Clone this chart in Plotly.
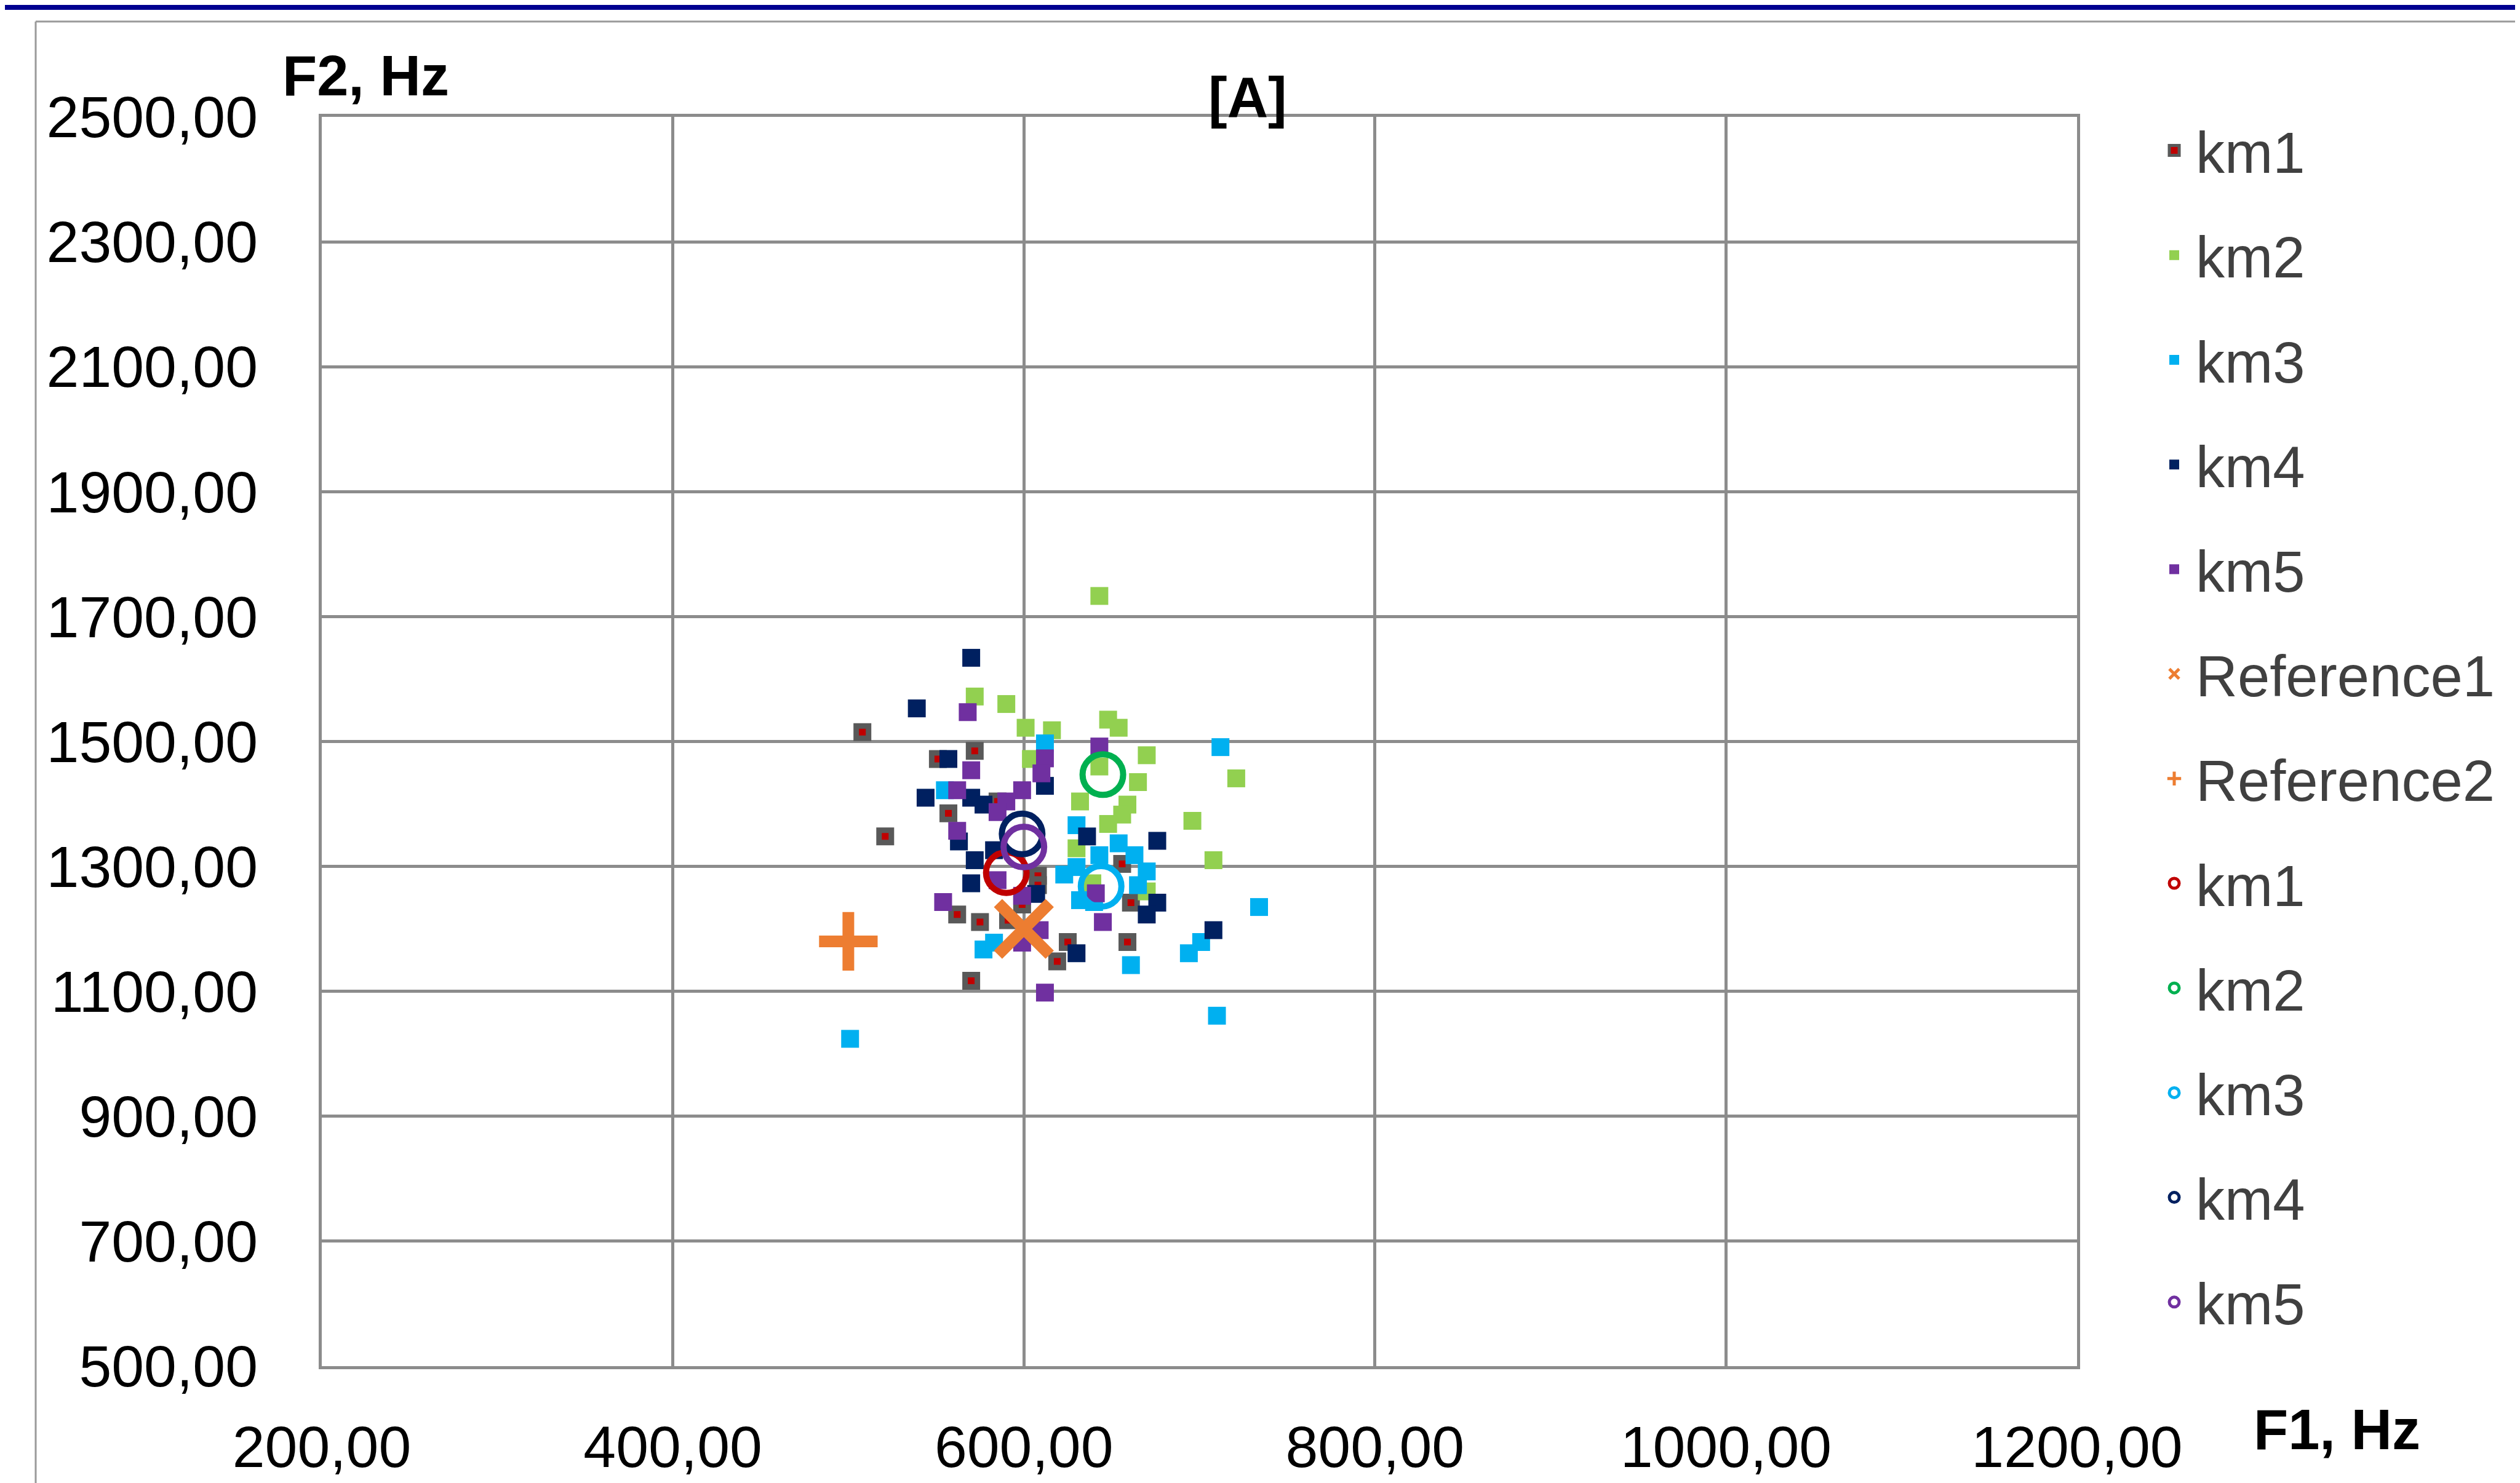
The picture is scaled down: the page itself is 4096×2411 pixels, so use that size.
import plotly.graph_objects as go

W, H = 4096, 2411
L, R, T, B = 515, 728, 182, 198
PW, PH = W - L - R, H - T - B

# ---------------- data ----------------
x_ticks = [200, 400, 600, 800, 1000, 1200]
x_labels = ["200,00", "400,00", "600,00", "800,00", "1000,00", "1200,00"]
y_ticks = [500, 700, 900, 1100, 1300, 1500, 1700, 1900, 2100, 2300, 2500]
y_labels = ["500,00", "700,00", "900,00", "1100,00", "1300,00", "1500,00",
            "1700,00", "1900,00", "2100,00", "2300,00", "2500,00"]

km1_f1 = [508, 572, 551, 557, 521, 562, 575, 608, 608, 599, 591, 570, 619, 656, 661, 625, 659, 585]
km1_f2 = [1515, 1485, 1472, 1385, 1348, 1223, 1211, 1285, 1270, 1239, 1214, 1117, 1148, 1304, 1242, 1179, 1179, 1404]

km2_f1 = [643, 572, 590, 601, 616, 648, 654, 604, 670, 643, 665, 721, 632, 659, 656, 696, 648, 708, 630, 639, 670]
km2_f2 = [1733, 1572, 1560, 1522, 1518, 1535, 1522, 1472, 1478, 1460, 1435, 1441, 1404, 1399, 1383, 1373, 1368, 1310, 1329, 1273, 1260]

km3_f1 = [612, 712, 555, 630, 654, 643, 663, 630, 623, 670, 665, 632, 640, 734, 701, 694, 661, 710, 577, 583, 501]
km3_f2 = [1497, 1491, 1422, 1366, 1337, 1318, 1318, 1299, 1287, 1292, 1270, 1246, 1243, 1235, 1179, 1161, 1142, 1061, 1167, 1178, 1024]

km4_f1 = [570, 539, 557, 612, 544, 570, 577, 563, 572, 583, 570, 607, 636, 676, 676, 670, 708, 630]
km4_f2 = [1634, 1553, 1472, 1429, 1410, 1410, 1399, 1340, 1310, 1326, 1273, 1256, 1348, 1341, 1242, 1223, 1198, 1161]

km5_f1 = [568, 612, 570, 610, 562, 599, 590, 585, 643, 562, 585, 554, 599, 609, 599, 612, 641, 645]
km5_f2 = [1547, 1473, 1454, 1449, 1422, 1422, 1404, 1387, 1492, 1357, 1278, 1243, 1253, 1198, 1178, 1098, 1257, 1211]

ref1_f1 = [600]
ref1_f2 = [1200]
ref2_f1 = [500]
ref2_f2 = [1180]

centroid_names = ["km1", "km2", "km3", "km4", "km5"]
centroid_f1 = [590, 645, 644, 599, 600]
centroid_f2 = [1290, 1447, 1268, 1352, 1331]

# ---------------- styles ----------------
point_colors = ["#c00000", "#92d050", "#00b0f0", "#002060", "#7030a0"]
centroid_colors = ["#c00000", "#00b050", "#00b0f0", "#002060", "#7030a0"]
FONT = "Liberation Sans"
GRID = "#8c8c8c"


def px_to_paper(px, py):
    return (px - L) / PW, (H - B - py) / PH


fig = go.Figure()

series = [("km1", km1_f1, km1_f2), ("km2", km2_f1, km2_f2), ("km3", km3_f1, km3_f2),
          ("km4", km4_f1, km4_f2), ("km5", km5_f1, km5_f2)]
for i, (name, xs, ys) in enumerate(series):
    if i == 0:
        marker = dict(symbol="square", size=20, color=point_colors[i],
                      line=dict(color="#595959", width=9))
    else:
        marker = dict(symbol="square", size=29, color=point_colors[i], line=dict(width=0))
    fig.add_trace(go.Scatter(x=xs, y=ys, mode="markers", name=name, marker=marker,
                             legendgroup="g%d" % i))

fig.add_trace(go.Scatter(x=ref1_f1, y=ref1_f2, mode="markers", name="Reference1",
                         marker=dict(symbol="x-thin", size=84, color="#ed7d31",
                                     line=dict(color="#ed7d31", width=19)),
                         legendgroup="g5"))
fig.add_trace(go.Scatter(x=ref2_f1, y=ref2_f2, mode="markers", name="Reference2",
                         marker=dict(symbol="cross-thin", size=68, color="#ed7d31",
                                     line=dict(color="#ed7d31", width=19)),
                         legendgroup="g6"))

for i, name in enumerate(centroid_names):
    fig.add_trace(go.Scatter(x=[centroid_f1[i]], y=[centroid_f2[i]], mode="markers", name=name,
                             marker=dict(symbol="circle-open", size=66, color=centroid_colors[i],
                                         line=dict(color=centroid_colors[i], width=10)),
                             legendgroup="c%d" % i))

axis_common = dict(showgrid=True, gridcolor=GRID, gridwidth=5, zeroline=False,
                   showline=True, linecolor=GRID, linewidth=5, mirror=True,
                   ticks="", tickfont=dict(family=FONT, size=95, color="#000000"))

fig.update_xaxes(range=[200, 1200], tickvals=x_ticks, ticktext=x_labels,
                 ticklabelstandoff=45, **axis_common)
fig.update_yaxes(range=[500, 2500], tickvals=y_ticks, ticktext=y_labels,
                 ticklabelstandoff=80, **axis_common)

shapes = []
# dark blue band on top
x0, _ = px_to_paper(0, 0)
x1, _ = px_to_paper(W, 0)
_, ya = px_to_paper(0, 0)
_, yb = px_to_paper(0, 8)
shapes.append(dict(type="rect", xref="paper", yref="paper", x0=x0, x1=x1, y0=yb, y1=ya,
                   fillcolor="#000090", line=dict(width=0), layer="above"))
# outer chart border (top and left)
bx, by = px_to_paper(50, 27)
shapes.append(dict(type="line", xref="paper", yref="paper", x0=bx, x1=x1, y0=by, y1=by,
                   line=dict(color="#9a9a9a", width=3)))
_, bbot = px_to_paper(0, H)
shapes.append(dict(type="line", xref="paper", yref="paper", x0=bx, x1=bx, y0=by, y1=bbot,
                   line=dict(color="#9a9a9a", width=3)))

annotations = []
for text, (px, py) in [("[A]", (2020, 150)), ("F2, Hz", (586, 115)), ("F1, Hz", (3790, 2316))]:
    ax, ay = px_to_paper(px, py)
    annotations.append(dict(text=text, xref="paper", yref="paper", x=ax, y=ay,
                            xanchor="center", yanchor="middle", showarrow=False,
                            font=dict(family=FONT, size=92, color="#000000", weight="bold")))

lx, ly = px_to_paper(3491, 169)
fig.update_layout(
    width=W, height=H,
    margin=dict(l=L, r=R, t=T, b=B, autoexpand=False),
    paper_bgcolor="white", plot_bgcolor="white",
    shapes=shapes, annotations=annotations,
    showlegend=True,
    legend=dict(x=lx, y=ly, xanchor="left", yanchor="top",
                font=dict(family=FONT, size=94, color="#404040"),
                traceorder="grouped", tracegroupgap=45, itemwidth=60,
                maxheight=2300,
                bgcolor="rgba(0,0,0,0)", itemsizing="trace"),
)

fig.write_html("out.html")
